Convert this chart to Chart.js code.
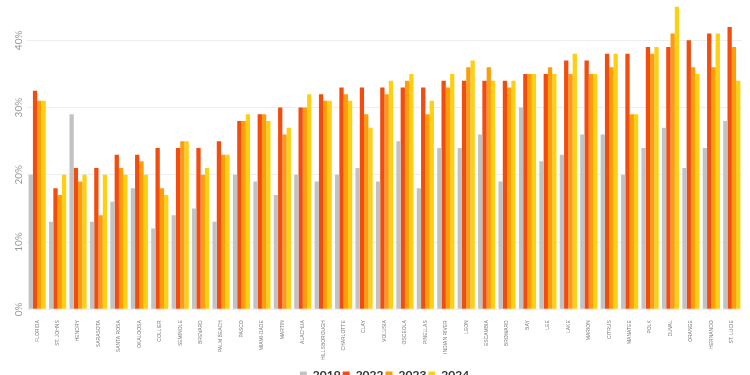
<!DOCTYPE html>
<html>
<head>
<meta charset="utf-8">
<script src="https://cdn.jsdelivr.net/npm/chart.js@4"></script>
<style>
html,body{margin:0;padding:0;background:#fff;overflow:hidden;}
#wrap{position:relative;width:750px;height:391px;}
</style>
</head>
<body>
<div id="wrap"><canvas id="c"></canvas></div>
<script>
// counties, sorted as in the source
const counties=['FLORIDA','ST. JOHNS','HENDRY','SARASOTA','SANTA ROSA','OKALOOSA','COLLIER','SEMINOLE','BREVARD','PALM BEACH',
  'PASCO','MIAMI-DADE','MARTIN','ALACHUA','HILLSBOROUGH','CHARLOTTE','CLAY','VOLUSIA','OSCEOLA','PINELLAS',
  'INDIAN RIVER','LEON','ESCAMBIA','BROWARD','BAY','LEE','LAKE','MARION','CITRUS','MANATEE',
  'POLK','DUVAL','ORANGE','HERNANDO','ST. LUCIE'];
const y2019=[20,13,29,13,16,18,12,14,15,13, 20,19,17,20,19,20,21,19,25,18, 24,24,26,19,30,22,23,26,26,20, 24,27,21,24,28];
const y2022=[32.5,18,21,21,23,23,24,24,24,25, 28,29,30,30,32,33,33,33,33,33, 34,34,34,34,35,35,37,37,38,38, 39,39,40,41,42];
const y2023=[31,17,19,14,21,22,18,25,20,23, 28,29,26,30,31,32,29,32,34,29, 33,36,36,33,35,36,35,35,36,29, 38,41,36,36,39];
const y2024=[31,20,20,20,20,20,17,25,21,23, 29,28,27,32,31,31,27,34,35,31, 35,37,34,34,35,35,38,35,38,29, 39,45,35,41,34];
const yTicks=[0,10,20,30,40];

const ds=(label,data,color)=>({label,data,backgroundColor:color,borderWidth:0,barPercentage:1,categoryPercentage:0.84});

// y labels are drawn turned on their side, centred on the tick
const sideLabels={
  id:'sideLabels',
  afterDraw(chart){
    const {ctx,scales:{y}}=chart;
    ctx.save();
    ctx.fillStyle='#999';
    ctx.font='10px Lato';
    ctx.textAlign='center';ctx.textBaseline='middle';
    yTicks.forEach(v=>{
      ctx.save();
      ctx.translate(19,y.getPixelForValue(v));
      ctx.rotate(-Math.PI/2);
      ctx.fillText(v+'%',0,0);
      ctx.restore();
    });
    ctx.restore();
  }
};

new Chart(document.getElementById('c'),{
  type:'bar',
  data:{labels:counties,datasets:[
    ds('2019',y2019,'#c2c2c2'),
    ds('2022',y2022,'#f24c0e'),
    ds('2023',y2023,'#fb9d0d'),
    ds('2024',y2024,'#fdd013')
  ]},
  options:{
    responsive:true,maintainAspectRatio:false,animation:false,
    layout:{padding:{left:27,right:8,top:0,bottom:0}},
    plugins:{
      tooltip:{enabled:false},
      legend:{position:'bottom',labels:{boxWidth:7,boxHeight:7,padding:2,color:'#333',
        font:{family:'Lato',size:12,weight:'bold'}}}
    },
    scales:{
      x:{
        grid:{display:false},border:{display:false},
        afterFit:s=>{s.height+=4;},
        ticks:{autoSkip:false,minRotation:90,maxRotation:90,padding:3,color:'#777',font:{family:'Liberation Sans',size:5}}
      },
      y:{
        min:0,max:46,
        afterBuildTicks:a=>{a.ticks=yTicks.map(v=>({value:v}));},
        grid:{color:'#eeeeee',drawTicks:false},border:{display:false},
        ticks:{display:false}
      }
    }
  },
  plugins:[sideLabels]
});
</script>
</body>
</html>
